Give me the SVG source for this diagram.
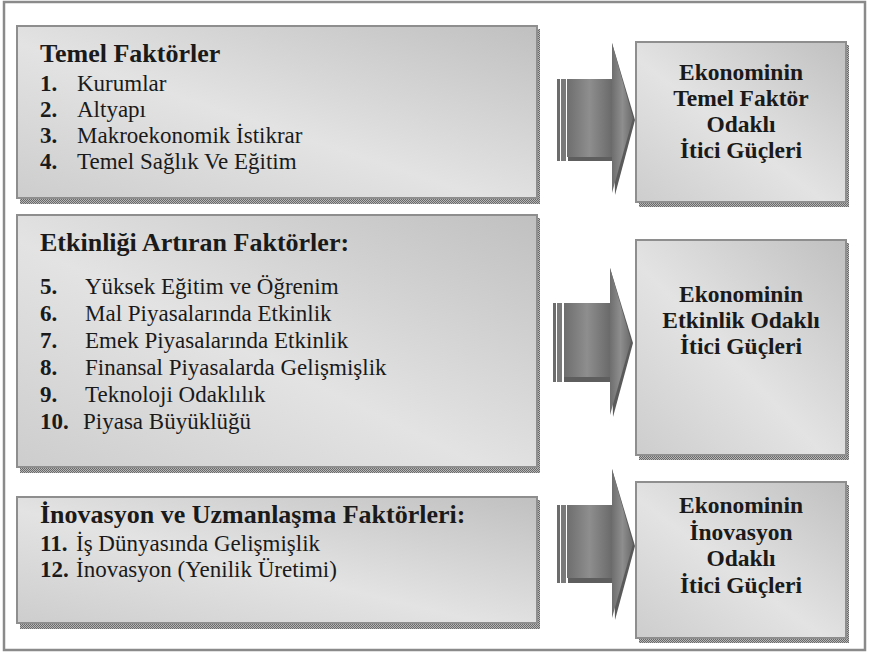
<svg xmlns="http://www.w3.org/2000/svg" width="869" height="654" viewBox="0 0 869 654">
<defs>
<linearGradient id="boxg" x1="0" y1="1" x2="1" y2="0">
<stop offset="0" stop-color="#cdcdcd"/>
<stop offset="0.45" stop-color="#e3e3e3"/>
<stop offset="1" stop-color="#c0c0c0"/>
</linearGradient>
<linearGradient id="arrg" x1="0" y1="0" x2="1" y2="0">
<stop offset="0" stop-color="#6e6e6e"/>
<stop offset="0.5" stop-color="#8e8e8e"/>
<stop offset="1" stop-color="#6a6a6a"/>
</linearGradient>
<pattern id="dots" width="2" height="2" patternUnits="userSpaceOnUse">
<rect width="2" height="2" fill="#b5b5b5"/>
<rect width="1" height="1" fill="#6a6a6a"/>
<rect x="1" y="1" width="1" height="1" fill="#6a6a6a"/>
</pattern>
</defs>
<style>
.box{fill:url(#boxg);stroke:#8e8e8e;stroke-width:2}
.sh{fill:url(#dots)}
text{fill:#1a1a1a}
.h{font-size:26px;font-weight:bold}
.i{font-size:23px}
.b{font-weight:bold}
.r{font-size:23.5px;font-weight:bold;text-anchor:middle}
.arr{fill:url(#arrg)}
.ahd{fill:#5a5a5a}
</style>
<rect x="4" y="2" width="861" height="648" fill="#ffffff" stroke="#8a8a8a" stroke-width="2.5"/>

<g id="box-temel">
<rect class="sh" x="20" y="199" width="520" height="5"/>
<rect class="sh" x="536" y="29" width="4" height="175"/>
<rect class="box" x="17" y="26" width="520" height="172"/>
<text class="h" x="40" y="62" font-family="Liberation Serif">Temel Faktörler</text>
<text class="i" y="91" font-family="Liberation Serif"><tspan class="b" x="40">1.</tspan><tspan x="77">Kurumlar</tspan></text>
<text class="i" y="117" font-family="Liberation Serif"><tspan class="b" x="40">2.</tspan><tspan x="77">Altyapı</tspan></text>
<text class="i" y="143" font-family="Liberation Serif"><tspan class="b" x="40">3.</tspan><tspan x="77">Makroekonomik İstikrar</tspan></text>
<text class="i" y="169" font-family="Liberation Serif"><tspan class="b" x="40">4.</tspan><tspan x="77">Temel Sağlık Ve Eğitim</tspan></text>
</g>

<g id="box-etkinlik">
<rect class="sh" x="20" y="468" width="520" height="5"/>
<rect class="sh" x="536" y="218" width="4" height="255"/>
<rect class="box" x="17" y="215" width="520" height="252"/>
<text class="h" x="40" y="251" font-family="Liberation Serif">Etkinliği Artıran Faktörler:</text>
<text class="i" y="294" font-family="Liberation Serif"><tspan class="b" x="40">5.</tspan><tspan x="85">Yüksek Eğitim ve Öğrenim</tspan></text>
<text class="i" y="321" font-family="Liberation Serif"><tspan class="b" x="40">6.</tspan><tspan x="85">Mal Piyasalarında Etkinlik</tspan></text>
<text class="i" y="348" font-family="Liberation Serif"><tspan class="b" x="40">7.</tspan><tspan x="85">Emek Piyasalarında Etkinlik</tspan></text>
<text class="i" y="375" font-family="Liberation Serif"><tspan class="b" x="40">8.</tspan><tspan x="85">Finansal Piyasalarda Gelişmişlik</tspan></text>
<text class="i" y="402" font-family="Liberation Serif"><tspan class="b" x="40">9.</tspan><tspan x="85">Teknoloji Odaklılık</tspan></text>
<text class="i" y="429" font-family="Liberation Serif"><tspan class="b" x="40">10.</tspan><tspan x="83">Piyasa Büyüklüğü</tspan></text>
</g>

<g id="box-inovasyon">
<rect class="sh" x="20" y="624" width="520" height="5"/>
<rect class="sh" x="536" y="500" width="4" height="129"/>
<rect class="box" x="17" y="497" width="520" height="126"/>
<text class="h" x="40" y="523" font-family="Liberation Serif">İnovasyon ve Uzmanlaşma Faktörleri:</text>
<text class="i" y="551" font-family="Liberation Serif"><tspan class="b" x="40">11.</tspan><tspan x="76">İş Dünyasında Gelişmişlik</tspan></text>
<text class="i" y="577" font-family="Liberation Serif"><tspan class="b" x="40">12.</tspan><tspan x="76">İnovasyon (Yenilik Üretimi)</tspan></text>
</g>

<g id="out-temel">
<rect class="sh" x="639" y="203" width="210" height="4"/>
<rect class="sh" x="845" y="45" width="4" height="162"/>
<rect class="box" x="636" y="42" width="210" height="160"/>
<text class="r" x="741" y="80" font-family="Liberation Serif">Ekonominin</text>
<text class="r" x="741" y="106" font-family="Liberation Serif">Temel Faktör</text>
<text class="r" x="741" y="132" font-family="Liberation Serif">Odaklı</text>
<text class="r" x="741" y="158" font-family="Liberation Serif">İtici Güçleri</text>
</g>

<g id="out-etkinlik">
<rect class="sh" x="639" y="456" width="210" height="4"/>
<rect class="sh" x="845" y="243" width="4" height="217"/>
<rect class="box" x="636" y="240" width="210" height="215"/>
<text class="r" x="741" y="302" font-family="Liberation Serif">Ekonominin</text>
<text class="r" x="741" y="328" font-family="Liberation Serif">Etkinlik Odaklı</text>
<text class="r" x="741" y="354" font-family="Liberation Serif">İtici Güçleri</text>
</g>

<g id="out-inovasyon">
<rect class="sh" x="639" y="639" width="210" height="4"/>
<rect class="sh" x="845" y="485" width="4" height="158"/>
<rect class="box" x="636" y="482" width="210" height="156"/>
<text class="r" x="741" y="513" font-family="Liberation Serif">Ekonominin</text>
<text class="r" x="741" y="540" font-family="Liberation Serif">İnovasyon</text>
<text class="r" x="741" y="566" font-family="Liberation Serif">Odaklı</text>
<text class="r" x="741" y="593" font-family="Liberation Serif">İtici Güçleri</text>
</g>

<g id="connectors">
<g id="arrow-1">
<rect x="568" y="157" width="44" height="4" fill="#5e5e5e"/>
<rect x="557" y="79" width="3" height="82" fill="#6c6c6c"/>
<rect x="561" y="79" width="5" height="82" fill="#7a7a7a"/>
<rect x="567" y="79" width="45" height="78" class="arr"/>
<polygon class="ahd" points="612,43 635,120 615,195"/>
<polygon class="arr" points="612,43 633,118 612,193"/>
</g>
<g id="arrow-2">
<rect x="564" y="377" width="46" height="5" fill="#5e5e5e"/>
<rect x="553" y="303" width="3" height="79" fill="#6c6c6c"/>
<rect x="557" y="303" width="5" height="79" fill="#7a7a7a"/>
<rect x="564" y="303" width="46" height="74" class="arr"/>
<polygon class="ahd" points="610,268 633,343 613,417"/>
<polygon class="arr" points="610,268 631,341 610,415"/>
</g>
<g id="arrow-3">
<rect x="568" y="578" width="44" height="5" fill="#5e5e5e"/>
<rect x="557" y="505" width="3" height="78" fill="#6c6c6c"/>
<rect x="561" y="505" width="5" height="78" fill="#7a7a7a"/>
<rect x="567" y="505" width="45" height="73" class="arr"/>
<polygon class="ahd" points="612,469 635,546 615,620"/>
<polygon class="arr" points="612,469 633,544 612,618"/>
</g>
</g>
</svg>
